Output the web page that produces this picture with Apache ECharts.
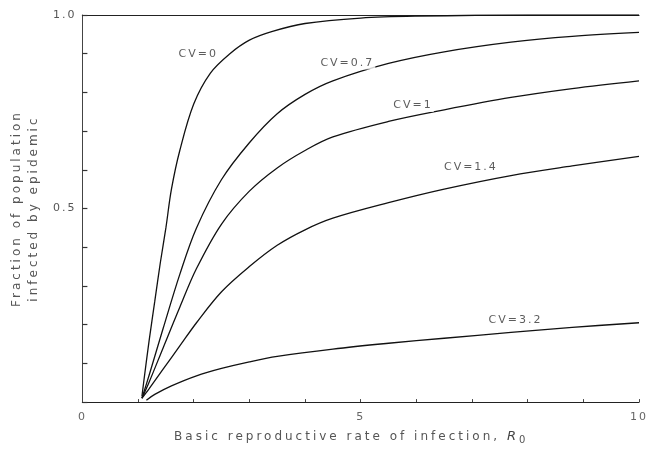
<!DOCTYPE html>
<html>
<head>
<meta charset="utf-8">
<script src="https://cdn.jsdelivr.net/npm/echarts@6/dist/echarts.min.js"></script>
<style>html,body{margin:0;padding:0;background:#fff;}#c{width:651px;height:451px;}</style>
</head>
<body>
<div id="c"></div>
<script>
// Basic reproductive rate R0 (x) and fraction infected (y)
const r0_cv0 = [1.07, 1.1, 1.2, 1.3, 1.4, 1.5, 1.6, 1.75, 2.0, 2.3, 2.65, 3.0, 3.4, 4.0, 5.0, 6.0, 8.0, 10.0];
const f_cv0  = [0.015, 0.05, 0.16, 0.26, 0.36, 0.45, 0.55, 0.65, 0.77, 0.85, 0.90, 0.935, 0.957, 0.978, 0.992, 0.997, 1.0, 1.0];

const r0_grid = [1.07, 1.2, 1.45, 1.75, 2.05, 2.5, 3.0, 3.5, 4.0, 4.5, 5.5, 6.5, 7.7, 8.8, 10.0];
const f_cv07  = [0.01, 0.07, 0.19, 0.33, 0.45, 0.575, 0.67, 0.745, 0.795, 0.83, 0.875, 0.905, 0.93, 0.945, 0.955];
const f_cv1   = [0.01, 0.052, 0.14, 0.245, 0.345, 0.46, 0.545, 0.605, 0.65, 0.685, 0.725, 0.755, 0.787, 0.81, 0.83];
const f_cv14  = [0.01, 0.035, 0.085, 0.145, 0.205, 0.285, 0.35, 0.405, 0.445, 0.475, 0.515, 0.55, 0.585, 0.61, 0.635];

const r0_cv32 = [1.15, 1.3, 1.6, 2.05, 2.5, 3.0, 3.5, 4.5, 5.5, 6.5, 7.7, 8.8, 10.0];
const f_cv32  = [0.005, 0.02, 0.042, 0.068, 0.087, 0.104, 0.118, 0.137, 0.152, 0.165, 0.18, 0.193, 0.205];

// Curve labels
const labelText = ['CV=0', 'CV=0.7', 'CV=1', 'CV=1.4', 'CV=3.2'];
const labelR    = [2.08, 4.76, 5.94, 6.98, 7.78];
const labelF    = [0.90, 0.876, 0.766, 0.607, 0.213];

// Axis ticks / labels
const xTickLabels = [0, 5, 10];
const yTickLabels = [0.5, 1.0];

// The scanned figure uses widely letter-spaced type: apply letter spacing to canvas text
(function () {
  const proto = window.CanvasRenderingContext2D && CanvasRenderingContext2D.prototype;
  if (!proto || !('letterSpacing' in proto)) return;
  const d = Object.getOwnPropertyDescriptor(proto, 'font');
  if (!d || !d.set) return;
  Object.defineProperty(proto, 'font', {
    configurable: true,
    get: function () { return d.get.call(this); },
    set: function (v) {
      d.set.call(this, v);
      const m = /(\d+(?:\.\d+)?)px/.exec(String(v));
      const size = m ? parseFloat(m[1]) : 12;
      this.letterSpacing = (size >= 12 ? 3 : 2) + 'px';
    }
  });
})();

function pairs(xs, ys) { return xs.map((x, i) => [x, ys[i]]); }

const lineColor = '#111';
function curve(name, xs, ys) {
  return {
    name: name, type: 'line', data: pairs(xs, ys),
    smooth: 0.35, symbol: 'none',
    lineStyle: { color: lineColor, width: 1.3 }, itemStyle: { color: lineColor }, silent: true, z: 3
  };
}

const chart = echarts.init(document.getElementById('c'), null, { renderer: 'canvas' });
chart.setOption({
  animation: false,
  backgroundColor: '#fff',
  textStyle: { fontFamily: 'DejaVu Sans' },
  grid: { left: 82, right: 8, top: 15, bottom: 41 },
  xAxis: [{
    type: 'value', min: 0, max: 10, interval: 1,
    name: 'Basic reproductive rate of infection, {i|R}{s|0}',
    nameLocation: 'middle', nameGap: 22,
    nameTextStyle: {
      color: '#555', fontSize: 12, fontFamily: 'DejaVu Sans', padding: [0, 20, 0, 0],
      rich: {
        i: { fontStyle: 'italic', fontSize: 13, color: '#444', fontFamily: 'DejaVu Sans' },
        s: { fontSize: 10, color: '#555', verticalAlign: 'bottom', padding: [6, 0, 0, 0], fontFamily: 'DejaVu Sans' }
      }
    },
    axisLine: { show: true, onZero: false, lineStyle: { color: '#222', width: 1.2 } },
    axisTick: { show: true, inside: true, length: 3, lineStyle: { color: '#444' } },
    axisLabel: {
      color: '#666', fontSize: 11, margin: 9,
      formatter: v => xTickLabels.indexOf(v) >= 0 ? String(v) : ''
    },
    splitLine: { show: false }
  }, {
    type: 'value', min: 0, max: 10, position: 'top',
    axisLine: { show: true, onZero: false, lineStyle: { color: '#222', width: 1.2 } },
    axisTick: { show: false }, axisLabel: { show: false }, splitLine: { show: false }
  }],
  yAxis: {
    type: 'value', min: 0, max: 1, interval: 0.1,
    name: 'Fraction of population\ninfected by epidemic',
    nameLocation: 'middle', nameGap: 34,
    nameTextStyle: { color: '#555', fontSize: 12, lineHeight: 17, fontFamily: 'DejaVu Sans' },
    axisLine: { show: true, onZero: false, lineStyle: { color: '#444', width: 1 } },
    axisTick: { show: true, inside: true, length: 5, lineStyle: { color: '#333', width: 1.2 } },
    axisLabel: {
      color: '#555', fontSize: 11, margin: 6,
      formatter: v => yTickLabels.some(t => Math.abs(t - v) < 1e-6) ? v.toFixed(1) : ''
    },
    splitLine: { show: false }
  },
  series: [
    curve('CV=0', r0_cv0, f_cv0),
    curve('CV=0.7', r0_grid, f_cv07),
    curve('CV=1', r0_grid, f_cv1),
    curve('CV=1.4', r0_grid, f_cv14),
    curve('CV=3.2', r0_cv32, f_cv32),
    {
      name: 'labels', type: 'scatter', symbolSize: 0, silent: true, z: 5,
      data: labelText.map((t, i) => [labelR[i], labelF[i], t]),
      label: {
        show: true, position: 'inside', formatter: p => p.data[2],
        color: '#333', fontSize: 11, fontFamily: 'DejaVu Sans',
        backgroundColor: '#fff', padding: [0, 1]
      }
    }
  ]
});
</script>
</body>
</html>
